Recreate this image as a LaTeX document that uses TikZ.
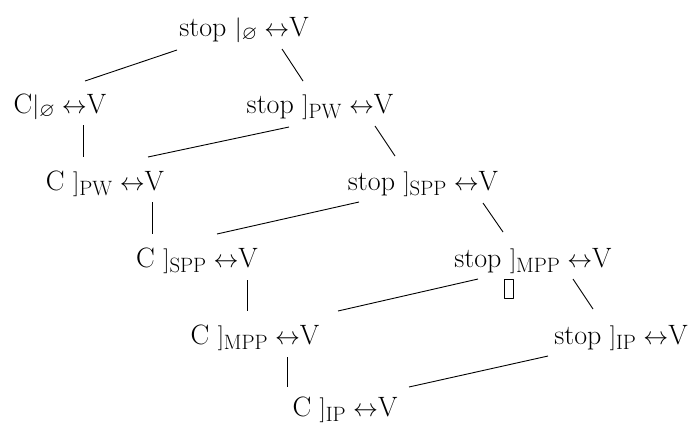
\documentclass[tikz,border=0pt]{standalone}
\usepackage{amsmath,amssymb}
\usepackage{tikz}

\tikzset{
  form/.style={anchor=base,inner sep=0pt,font=\fontsize{28}{32}\selectfont},
  edge/.style={line width=0.9pt}
}

\begin{document}
\begin{tikzpicture}[x=1pt,y=-1pt,line join=round]
  \useasboundingbox (0,0) rectangle (700,426);

  % ---------- the forms, row by row ----------
  \node[form] (top)  at (244,36)  {stop $|_{\varnothing}\leftrightarrow$V};
  \node[form] (ce)   at (60,113)  {C$|_{\varnothing}\leftrightarrow$V};
  \node[form] (sPW)  at (320,113) {stop $]_{\mathrm{PW}}\leftrightarrow$V};
  \node[form] (cPW)  at (105,190) {C $]_{\mathrm{PW}}\leftrightarrow$V};
  \node[form] (sSPP) at (423,190) {stop $]_{\mathrm{SPP}}\leftrightarrow$V};
  \node[form] (cSPP) at (197,267) {C $]_{\mathrm{SPP}}\leftrightarrow$V};
  \node[form] (sMPP) at (533,267) {stop $]_{\mathrm{MPP}}\leftrightarrow$V};
  \node[form] (cMPP) at (255,344) {C $]_{\mathrm{MPP}}\leftrightarrow$V};
  \node[form] (sIP)  at (621,344) {stop $]_{\mathrm{IP}}\leftrightarrow$V};
  \node[form] (cIP)  at (345,416) {C $]_{\mathrm{IP}}\leftrightarrow$V};

  % empty box under stop ]MPP
  \node[draw,line width=0.8pt,inner sep=0pt,minimum width=9pt,minimum height=19pt]
    (gap) at ([shift={(-24.5,21.5)}]sMPP.base) {};

  % ---------- links ----------
  \draw[edge] ([shift={(-67,14)}]top.base) -- ([shift={(25,-32)}]ce.base);
  \draw[edge] ([shift={(38,13)}]top.base) -- ([shift={(-17,-32)}]sPW.base);

  \draw[edge] ([shift={(23,12)}]ce.base) -- ([shift={(-22,-33)}]cPW.base);
  \draw[edge] ([shift={(-31,14)}]sPW.base) -- ([shift={(43,-33)}]cPW.base);
  \draw[edge] ([shift={(55,13)}]sPW.base) -- ([shift={(-28,-34)}]sSPP.base);

  \draw[edge] ([shift={(47,12)}]cPW.base) -- ([shift={(-45,-33)}]cSPP.base);
  \draw[edge] ([shift={(-64,12)}]sSPP.base) -- ([shift={(20,-33)}]cSPP.base);
  \draw[edge] ([shift={(60,13)}]sSPP.base) -- ([shift={(-30,-35)}]sMPP.base);

  \draw[edge] ([shift={(50,13)}]cSPP.base) -- ([shift={(-8,-33)}]cMPP.base);
  \draw[edge] ([shift={(-55,12)}]sMPP.base) -- ([shift={(83,-33)}]cMPP.base);
  \draw[edge] ([shift={(40,12)}]sMPP.base) -- ([shift={(-28,-35)}]sIP.base);

  \draw[edge] ([shift={(32,13)}]cMPP.base) -- ([shift={(-58,-29)}]cIP.base);
  \draw[edge] ([shift={(-73,12)}]sIP.base) -- ([shift={(64,-29)}]cIP.base);
\end{tikzpicture}
\end{document}
